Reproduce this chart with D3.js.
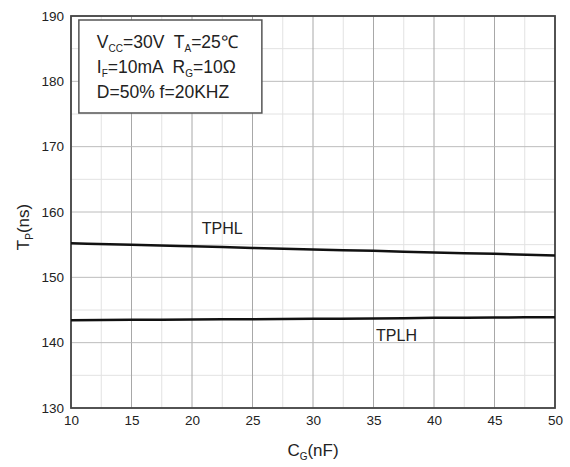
<!DOCTYPE html>
<meta charset="utf-8">
<script src="https://d3js.org/d3.v7.min.js"></script>
<style>
  body { margin: 0; background: #fff; }
  text { font-family: "Liberation Sans", Arial, sans-serif; fill: #222; white-space: pre; }
</style>
<body>
<div id="chart"></div>
<script>
  // data
  var cg = [10, 15, 20, 25, 30, 35, 40, 45, 50];
  var tphl = [155.2, 155.0, 154.75, 154.5, 154.25, 154.05, 153.8, 153.6, 153.35];
  var tplh = [143.45, 143.5, 143.55, 143.6, 143.65, 143.7, 143.8, 143.85, 143.9];
  var xTicks = [10, 15, 20, 25, 30, 35, 40, 45, 50];
  var yTicks = [130, 140, 150, 160, 170, 180, 190];
  var xMinor = [12.5, 17.5, 22.5, 27.5, 32.5, 37.5, 42.5, 47.5];
  var yMinor = [135, 145, 155, 165, 175, 185];

  var margin = { top: 16, right: 15, bottom: 59, left: 71 },
    width = 570 - margin.left - margin.right,
    height = 467 - margin.top - margin.bottom;

  var svg = d3.select("#chart")
    .append("svg")
    .attr("width", 570)
    .attr("height", 467);

  var g = svg.append("g")
    .attr("transform", "translate(" + margin.left + "," + margin.top + ")");

  var x = d3.scaleLinear().domain([10, 50]).range([0, width]);
  var y = d3.scaleLinear().domain([130, 190]).range([height, 0]);

  // minor grid
  g.selectAll(".vminor").data(xMinor).enter().append("line")
    .attr("x1", d => x(d)).attr("x2", d => x(d))
    .attr("y1", 0).attr("y2", height)
    .attr("stroke", "#e2e2e2").attr("stroke-width", 1);
  g.selectAll(".hminor").data(yMinor).enter().append("line")
    .attr("y1", d => y(d)).attr("y2", d => y(d))
    .attr("x1", 0).attr("x2", width)
    .attr("stroke", "#e2e2e2").attr("stroke-width", 1);

  // major grid
  g.selectAll(".vmajor").data(xTicks).enter().append("line")
    .attr("x1", d => x(d)).attr("x2", d => x(d))
    .attr("y1", 0).attr("y2", height)
    .attr("stroke", "#a8a8a8").attr("stroke-width", 1);
  g.selectAll(".hmajor").data(yTicks).enter().append("line")
    .attr("y1", d => y(d)).attr("y2", d => y(d))
    .attr("x1", 0).attr("x2", width)
    .attr("stroke", "#bcbcbc").attr("stroke-width", 1);

  // axes (labels only)
  var xAxis = g.append("g")
    .attr("transform", "translate(0," + height + ")")
    .call(d3.axisBottom(x).tickValues(xTicks).tickSize(0).tickPadding(7));
  var yAxis = g.append("g")
    .call(d3.axisLeft(y).tickValues(yTicks).tickSize(0).tickPadding(7));
  [xAxis, yAxis].forEach(function(a) {
    a.select(".domain").remove();
    a.selectAll("text")
      .style("font-family", "'Liberation Sans', Arial, sans-serif")
      .style("font-size", "13.5px")
      .attr("fill", "#222");
  });

  // frame
  g.append("rect")
    .attr("x", 0).attr("y", 0)
    .attr("width", width).attr("height", height)
    .attr("fill", "none").attr("stroke", "#444").attr("stroke-width", 1.8);

  // curves
  var line = d3.line()
    .x((d, i) => x(cg[i]))
    .y(d => y(d))
    .curve(d3.curveMonotoneX);
  [tphl, tplh].forEach(function(s) {
    g.append("path")
      .datum(s)
      .attr("d", line)
      .attr("fill", "none")
      .attr("stroke", "#111")
      .attr("stroke-width", 2.5);
  });

  // curve labels
  g.append("text").attr("x", x(22.5)).attr("y", y(156.6))
    .attr("text-anchor", "middle").style("font-size", "16px").text("TPHL");
  g.append("text").attr("x", x(36.9)).attr("y", y(140.2))
    .attr("text-anchor", "middle").style("font-size", "16px").text("TPLH");

  // condition box
  var box = g.append("g").attr("transform", "translate(" + (x(10.65)) + "," + 4 + ")");
  box.append("rect")
    .attr("x", 0).attr("y", 0).attr("width", 183).attr("height", 93)
    .attr("fill", "#fff").attr("stroke", "#555").attr("stroke-width", 1.5);

  function condLine(yy, parts) {
    var t = box.append("text").attr("x", 18).attr("y", yy).style("font-size", "17.5px");
    parts.forEach(function(p) {
      var s = t.append("tspan").text(p[0]);
      if (p[1]) s.style("font-size", "10px").attr("dy", 4);
      else if (p[2]) s.attr("dy", -4);
    });
  }
  condLine(28, [["V"], ["CC", true], ["=30V  T", false, true], ["A", true], ["=25\u2103", false, true]]);
  condLine(53, [["I"], ["F", true], ["=10mA  R", false, true], ["G", true], ["=10\u03a9", false, true]]);
  condLine(78, [["D=50% f=20KHZ"]]);

  // axis titles
  var xt = svg.append("text")
    .attr("x", 313).attr("y", 456)
    .attr("text-anchor", "middle").style("font-size", "17px");
  xt.append("tspan").text("C");
  xt.append("tspan").text("G").style("font-size", "10px").attr("dy", 4);
  xt.append("tspan").text("(nF)").attr("dy", -4);

  var yt = svg.append("text")
    .attr("transform", "translate(29,227) rotate(-90)")
    .attr("text-anchor", "middle").style("font-size", "17px");
  yt.append("tspan").text("T");
  yt.append("tspan").text("P").style("font-size", "10px").attr("dy", 4);
  yt.append("tspan").text("(ns)").attr("dy", -4);
</script>
</body>
